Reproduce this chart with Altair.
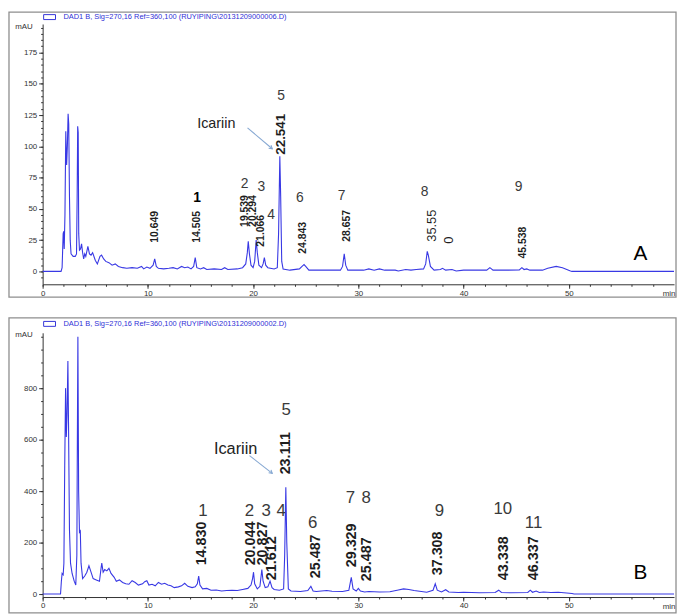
import altair as alt
import pandas as pd

# ---------------- data: panel A trace (retention time [min], absorbance [mAU]) -------------
a_time = [0, 1.75, 1.85, 1.95, 2.0, 2.05, 2.12, 2.2, 2.28, 2.35, 2.42, 2.48, 2.55, 2.62, 2.7, 2.9, 3.1, 3.22,
          3.28, 3.33, 3.38, 3.43, 3.5, 3.6, 3.7, 3.8, 3.9, 4.0, 4.1, 4.3, 4.45, 4.6, 4.75, 5.0, 5.2, 5.45, 5.6,
          5.8, 6.0, 6.3, 6.6, 6.9, 7.2, 7.6, 8.0, 8.5, 9.0, 9.4, 9.6, 9.9, 10.2, 10.5, 10.65, 10.8, 11.0, 11.5,
          12.0, 12.4, 12.8, 13.2, 13.5, 13.8, 14.1, 14.35, 14.5, 14.65, 15.0, 15.3, 15.6, 16.3, 17.0, 17.3,
          17.6, 18.5, 19.0, 19.3, 19.45, 19.54, 19.65, 19.8, 20.0, 20.15, 20.29, 20.4, 20.55, 20.8, 20.95,
          21.07, 21.2, 21.4, 22.0, 22.3, 22.42, 22.54, 22.62, 22.72, 22.85, 23.5, 24.4, 24.7, 24.84, 25.0,
          25.3, 26.0, 28.3, 28.5, 28.66, 28.8, 29.0, 30.5, 31.0, 31.5, 32.0, 32.5, 33.5, 33.8, 34.5, 35.0,
          35.5, 36.2, 36.4, 36.55, 36.65, 36.85, 37.2, 37.8, 38.0, 38.3, 38.9, 39.3, 40.0, 42.2, 42.5, 42.8,
          44.0, 45.3, 45.54, 45.75, 46.0, 46.3, 47.5, 48.0, 48.8, 49.4, 50.1, 50.3, 60]
a_mau = [0, 0, 3, 30, 32, 18, 45, 112, 85, 100, 126, 118, 60, 25, 14, 12, 12, 14,
         60, 116, 111, 30, 17, 18, 22, 15, 10, 14, 12, 20, 14, 13, 15, 9, 6, 12, 13,
         10, 8, 7, 5, 6, 4, 3, 2.5, 3, 2.5, 4, 2, 3.5, 2.5, 5, 10, 4, 2.5, 2,
         2.5, 3, 2, 4, 3, 3.5, 2, 4, 11, 3, 2, 3, 1.5, 2, 1.5, 3,
         1.5, 2, 3, 6, 15, 24, 14, 5, 3, 8, 25, 15, 5, 3, 6,
         11, 5, 3, 2, 3, 30, 92, 60, 8, 2, 1, 2, 4.5, 5.5, 4,
         1, 1, 1, 4, 14, 5, 1, 1, 2, 1, 2, 1, 1, 0.3, 1.5, 1,
         1.5, 2, 6, 16, 13, 4, 1, 1.5, 2.5, 1, 1.5, 0.3, 1, 1, 3, 1,
         1, 1.2, 3, 1.5, 2, 1, 1, 2.5, 4, 3, 0.5, 0, 0]

# ---------------- data: panel B trace ----------------
b_time = [0, 1.7, 1.78, 1.85, 1.95, 2.02, 2.1, 2.18, 2.25, 2.32, 2.4, 2.46, 2.55, 2.65, 2.8, 3.0, 3.15, 3.25,
          3.3, 3.35, 3.42, 3.5, 3.58, 3.65, 3.8, 4.0, 4.2, 4.4, 4.6, 4.8, 5.1, 5.4, 5.55, 5.62, 5.75, 5.9,
          6.1, 6.3, 6.5, 6.8, 7.0, 7.3, 7.6, 7.9, 8.2, 8.5, 8.8, 9.1, 9.5, 9.7, 9.9, 10.1, 10.4, 10.7, 11.0,
          11.3, 11.6, 11.9, 12.2, 12.5, 12.9, 13.2, 13.5, 13.8, 14.2, 14.5, 14.7, 14.83, 14.95, 15.2, 15.6,
          16.0, 16.5, 17.0, 17.5, 18.0, 18.5, 19.0, 19.5, 19.8, 19.95, 20.04, 20.15, 20.4, 20.65, 20.83,
          20.95, 21.15, 21.4, 21.61, 21.8, 22.0, 22.5, 22.9, 23.0, 23.11, 23.2, 23.35, 23.6, 24.5, 25.2,
          25.49, 25.7, 26.0, 27.0, 27.5, 28.5, 29.1, 29.33, 29.5, 29.8, 30.0, 30.2, 30.6, 31.0, 32.0, 33.0,
          33.8, 34.3, 34.8, 35.3, 36.5, 37.1, 37.31, 37.5, 37.9, 38.3, 38.6, 39.5, 40.0, 41.5, 43.0, 43.34,
          43.6, 44.5, 46.1, 46.34, 46.55, 46.9, 47.2, 47.6, 48.3, 49.0, 49.8, 50.3, 50.5, 60]
b_mau = [0, 0, 50, 80, 75, 120, 500, 800, 610, 700, 905, 660, 250, 120, 80, 50, 35, 150,
         600, 1000, 400, 240, 245, 120, 60, 70, 85, 110, 85, 60, 55, 50, 100, 120, 85, 95,
         90, 100, 80, 65, 50, 55, 45, 40, 38, 52, 45, 35, 40, 48, 52, 35, 38, 32, 45,
         38, 42, 35, 32, 25, 28, 32, 42, 30, 25, 28, 40, 70, 35, 20, 22,
         15, 16, 12, 14, 15, 14, 18, 22, 35, 60, 85, 40, 20, 30, 95,
         50, 25, 28, 50, 25, 18, 15, 20, 150, 415, 200, 20, 12, 10, 14,
         30, 12, 10, 14, 11, 10, 15, 65, 20, 12, 22, 12, 8, 10, 8, 9,
         16, 20, 18, 14, 7, 15, 40, 15, 8, 17, 8, 6, 7, 5, 6, 15,
         6, 5, 6, 15, 7, 12, 6, 8, 6, 7, 4, 2, 0, 0]

# ---------------- annotations: retention-time labels ----------------
a_rt_text = ["10.649", "14.505", "19.539", "20.294", "21.066", "22.541", "24.843", "28.657", "35.55", "0", "45.538"]
a_rt_t = [10.72, 14.67, 19.28, 20.03, 20.78, 22.67, 24.73, 28.97, 36.96, 38.65, 45.61]
a_rt_v = [22.9, 22.9, 35.6, 35.6, 19.8, 93.3, 14.2, 23.7, 23.7, 22.1, 10.3]

b_rt_text = ["14.830", "20.044", "20.827", "21.612", "23.111", "25.487", "29.329", "25.487", "37.308", "43.338", "46.337"]
b_rt_t = [15.14, 19.84, 20.97, 21.82, 23.14, 25.96, 29.44, 30.85, 37.62, 43.83, 46.74]
b_rt_v = [111.5, 111.5, 111.5, 54, 465, 61.5, 104, 50, 73, 54, 54]

# ---------------- annotations: peak numbers ----------------
a_num_text = ["1", "2", "3", "4", "5", "6", "7", "8", "9"]
a_num_t = [14.67, 19.19, 20.78, 21.72, 22.67, 24.45, 28.4, 36.3, 45.24]
a_num_v = [58.5, 69.6, 67.2, 45.1, 140, 58.5, 60.1, 63.3, 67.2]

b_num_text = ["1", "2", "3", "4", "5", "6", "7", "8", "9", "10", "11"]
b_num_t = [15.24, 19.66, 21.25, 22.67, 23.14, 25.67, 29.25, 30.75, 37.71, 43.73, 46.65]
b_num_v = [323, 323, 323, 323, 715, 277, 373, 373, 323, 331, 277]

# Icariin callouts (text position, arrow start, arrow end)
a_icariin = {"t": 16.5, "v": 117.8, "t1": 19.47, "v1": 114.7, "t2": 21.82, "v2": 98.1}
b_icariin = {"t": 18.34, "v": 565, "t1": 19.66, "v1": 538, "t2": 21.82, "v2": 469}

a_letter = {"text": "A", "t": 56.8, "v": 14.2}
b_letter = {"text": "B", "t": 56.8, "v": 81}

a_legend = r"DAD1 B, Sig=270,16 Ref=360,100 (RUYIPING\20131209000006.D)"
b_legend = r"DAD1 B, Sig=270,16 Ref=360,100 (RUYIPING\20131209000002.D)"

x_major = [0, 10, 20, 30, 40, 50]
x_minor = [v for v in range(0, 60, 2)]
a_y_major = [0, 25, 50, 75, 100, 125, 150, 175]
a_y_minor = list(range(-5, 196, 5))
b_y_major = [0, 200, 400, 600, 800]
b_y_minor = list(range(0, 1001, 50))

# ---------------- styling ----------------
W = 638
BLUE = "#3838e4"
FONT = "Liberation Sans"
AXC = "#333333"
ONE = pd.DataFrame({"k": [0]})


def panel(tt, vv, ydom, h, ymaj, ymin, rt, nums, icar, letter, legend, leg_y, ftop, fbot, mau_y,
          rt_size, big_rt, normal_rt, num_size, icar_size, bold_num):
    xs = alt.Scale(domain=[0, 60], nice=False, zero=False)
    ys = alt.Scale(domain=ydom, nice=False, zero=False)
    trace = pd.DataFrame({"t": tt, "v": vv})

    frame = alt.Chart(ONE).mark_rect(fillOpacity=0, stroke="#8e8e8e", strokeWidth=1.3).encode(
        x=alt.value(-34), x2=alt.value(640), y=alt.value(ftop), y2=alt.value(fbot))

    line = alt.Chart(trace).mark_line(color=BLUE, strokeWidth=1.1).encode(
        x=alt.X("t:Q", scale=xs, axis=alt.Axis(
            values=x_major, orient="bottom", title=None, grid=False, labelFontSize=8, labelFont=FONT,
            labelColor=AXC, tickColor=AXC, domainColor=AXC, tickSize=4, labelPadding=1,
            labelFlush=False)),
        y=alt.Y("v:Q", scale=ys, axis=alt.Axis(
            values=ymaj, orient="left", title=None, grid=False, labelFontSize=8, labelFont=FONT,
            labelColor=AXC, tickColor=AXC, domainColor=AXC, tickSize=4, labelPadding=2,
            labelFlush=False)),
    )

    rt_df = pd.DataFrame({"t": rt[1], "v": rt[2], "txt": rt[0]})
    rt_df["s"] = [big_rt.get(i, rt_size) for i in range(len(rt_df))]
    rt_df["nb"] = [i in normal_rt for i in range(len(rt_df))]
    rt_bold = rt_df[~rt_df["nb"]]
    rt_norm = rt_df[rt_df["nb"]]

    rtl = alt.Chart(rt_bold).mark_text(angle=270, align="left", baseline="middle", fontWeight="bold",
                                       font=FONT, color="#1e1e1e").encode(
        x=alt.X("t:Q", scale=xs, axis=alt.Axis(values=x_minor, orient="bottom", labels=False,
                                               domain=False, tickSize=2, tickColor=AXC, grid=False,
                                               title=None)),
        y=alt.Y("v:Q", scale=ys, axis=alt.Axis(values=ymin, orient="left", labels=False,
                                               domain=False, tickSize=2, tickColor=AXC, grid=False,
                                               title=None)),
        text="txt:N",
        size=alt.Size("s:Q", scale=None, legend=None),
    )
    layers = [frame, line, rtl]
    if len(rt_norm):
        rtc = alt.Chart(rt_norm).mark_text(angle=270, align="left", baseline="middle",
                                           font=FONT, color="#1e1e1e").encode(
            x=alt.X("t:Q", scale=xs, axis=None), y=alt.Y("v:Q", scale=ys, axis=None),
            text="txt:N", size=alt.Size("s:Q", scale=None, legend=None))
        layers.append(rtc)

    num_df = pd.DataFrame({"t": nums[1], "v": nums[2], "txt": nums[0]})
    num_df["b"] = [x in bold_num for x in nums[0]]
    for is_bold, sub in num_df.groupby("b"):
        layers.append(alt.Chart(sub).mark_text(
            align="center", baseline="middle", font=FONT, fontSize=num_size,
            fontWeight="bold" if is_bold else "normal", color="#000" if is_bold else "#3a3a3a").encode(
            x=alt.X("t:Q", scale=xs, axis=None), y=alt.Y("v:Q", scale=ys, axis=None), text="txt:N"))

    icd = pd.DataFrame([icar])
    layers.append(alt.Chart(icd).mark_text(align="center", baseline="middle", font=FONT,
                                           fontSize=icar_size, color="#222").encode(
        x=alt.X("t:Q", scale=xs, axis=None), y=alt.Y("v:Q", scale=ys, axis=None),
        text=alt.value("Icariin")))
    layers.append(alt.Chart(icd).mark_rule(color="#86a8d2", strokeWidth=1.1).encode(
        x=alt.X("t1:Q", scale=xs, axis=None), y=alt.Y("v1:Q", scale=ys, axis=None),
        x2="t2:Q", y2="v2:Q"))
    layers.append(alt.Chart(icd).mark_point(shape="M -1 -0.6 L 0 0 L -1 0.6", filled=False,
                                            color="#86a8d2", strokeWidth=1.1, size=40,
                                            angle=39, opacity=1).encode(
        x=alt.X("t2:Q", scale=xs, axis=None), y=alt.Y("v2:Q", scale=ys, axis=None)))

    layers.append(alt.Chart(pd.DataFrame([letter])).mark_text(
        align="center", baseline="middle", font=FONT, fontSize=21, color="#000").encode(
        x=alt.X("t:Q", scale=xs, axis=None), y=alt.Y("v:Q", scale=ys, axis=None), text="text:N"))

    # legend line, mAU and min labels
    layers.append(alt.Chart(ONE).mark_rect(fillOpacity=0, stroke="#3535d8", strokeWidth=1).encode(
        x=alt.value(1), x2=alt.value(13), y=alt.value(leg_y - 2.5), y2=alt.value(leg_y + 2.5)))
    layers.append(alt.Chart(ONE).mark_text(align="left", baseline="middle", font=FONT, fontSize=7.5,
                                           color="#2f2fd6").encode(
        x=alt.value(21), y=alt.value(leg_y), text=alt.value(legend)))
    layers.append(alt.Chart(ONE).mark_text(align="right", baseline="middle", font=FONT, fontSize=8,
                                           color=AXC).encode(
        x=alt.value(-10), y=alt.value(mau_y), text=alt.value("mAU")))
    layers.append(alt.Chart(ONE).mark_text(align="center", baseline="middle", font=FONT, fontSize=8,
                                           color=AXC).encode(
        x=alt.value(633), y=alt.value(h + 10), text=alt.value("min")))

    return alt.layer(*layers).resolve_axis(x="independent", y="independent").properties(
        width=W, height=h)


chart_a = panel(a_time, a_mau, [-10.3, 197.8], 263, a_y_major, a_y_minor,
                (a_rt_text, a_rt_t, a_rt_v), (a_num_text, a_num_t, a_num_v), a_icariin, a_letter,
                a_legend, -7, -12, 276, 3, 10.5, {5: 13.5, 8: 13, 9: 13}, [8, 9], 14, 14.5, ["1"])
chart_b = panel(b_time, b_mau, [-11.5, 1015], 267, b_y_major, b_y_minor,
                (b_rt_text, b_rt_t, b_rt_v), (b_num_text, b_num_t, b_num_v), b_icariin, b_letter,
                b_legend, -9, -15, 283, 2, 14.5, {}, [], 17, 16.5, [])

chart = alt.vconcat(chart_a, chart_b, spacing=19).properties(padding=0).configure_view(stroke=None)

chart.save("out.html", embed_options={"renderer": "svg", "actions": False})
